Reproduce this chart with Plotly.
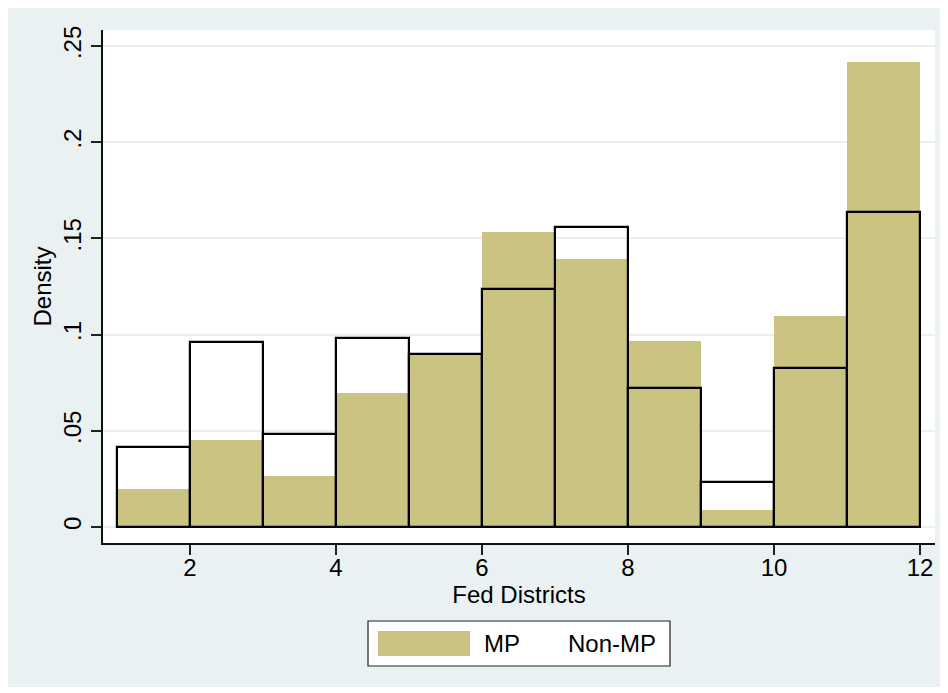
import plotly.graph_objects as go

# Histogram bins (Fed districts), each bin spans [start, start+1)
bin_start = [1, 2, 3, 4, 5, 6, 7, 8, 9, 10, 11]
bin_width = 1

# Density values
mp_density = [0.0198, 0.0452, 0.0265, 0.0695, 0.0903, 0.1535, 0.1391, 0.0967, 0.0088, 0.1097, 0.2419]
nonmp_density = [0.0418, 0.0962, 0.0485, 0.0982, 0.0900, 0.1239, 0.1561, 0.0723, 0.0236, 0.0825, 0.1639]

y_tickvals = [0, 0.05, 0.1, 0.15, 0.2, 0.25]
y_ticktext = ["0", ".05", ".1", ".15", ".2", ".25"]
x_tickvals = [2, 4, 6, 8, 10, 12]

KHAKI = "#CAC381"
OUTER_BG = "#EAF1F3"
GRID = "#E8F0F2"
FONT = "Arial, Liberation Sans, sans-serif"
FS = 24

fig = go.Figure()
fig.add_trace(go.Bar(
    x=bin_start, y=mp_density, width=bin_width, offset=0,
    marker=dict(color=KHAKI, line=dict(width=0)),
    name="MP", showlegend=False,
))
fig.add_trace(go.Bar(
    x=bin_start, y=nonmp_density, width=bin_width, offset=0,
    marker=dict(color="rgba(0,0,0,0)", line=dict(color="black", width=2.2)),
    name="Non-MP", showlegend=False,
))

# figure geometry (page is offset by 8px body margin)
OFF = 8
W, H = 932, 679
L, T = 103 - OFF, 30 - OFF
R = W - (935 - OFF)
B = H - (543 - OFF)
pw, ph = W - L - R, H - T - B

def px_x(p):  # page pixel -> paper x
    return (p - OFF - L) / pw

def px_y(p):  # page pixel -> paper y
    return (H - B - (p - OFF)) / ph

shapes = [
    # legend box
    dict(type="rect", xref="paper", yref="paper",
         x0=px_x(368), x1=px_x(670), y0=px_y(666), y1=px_y(621),
         fillcolor="white", line=dict(color="#222222", width=1.2)),
    # legend key for MP
    dict(type="rect", xref="paper", yref="paper",
         x0=px_x(378), x1=px_x(470), y0=px_y(656), y1=px_y(631),
         fillcolor=KHAKI, line=dict(width=0)),
]

annotations = [
    dict(text="MP", xref="paper", yref="paper", x=px_x(482), y=px_y(643.5),
         xanchor="left", yanchor="middle", showarrow=False,
         font=dict(family=FONT, size=FS, color="black")),
    dict(text="Non-MP", xref="paper", yref="paper", x=px_x(566), y=px_y(643.5),
         xanchor="left", yanchor="middle", showarrow=False,
         font=dict(family=FONT, size=FS, color="black")),
]

fig.update_layout(
    width=W, height=H,
    margin=dict(l=L, r=R, t=T, b=B, pad=0),
    paper_bgcolor=OUTER_BG,
    plot_bgcolor="white",
    barmode="overlay",
    bargap=0,
    showlegend=False,
    font=dict(family=FONT, size=FS, color="black"),
    shapes=shapes,
    annotations=annotations,
    xaxis=dict(
        range=[0.808, 12.205],
        tickvals=x_tickvals,
        ticks="outside", ticklen=10, tickwidth=1.5, tickcolor="#222222",
        showline=True, linecolor="#111111", linewidth=1.5,
        showgrid=False, zeroline=False,
        tickfont=dict(size=FS),
        ticklabelstandoff=-8,
        title=dict(text="Fed Districts", font=dict(size=FS), standoff=2),
    ),
    yaxis=dict(
        range=[-0.0083, 0.2583],
        tickvals=y_tickvals, ticktext=y_ticktext,
        tickangle=-90,
        ticks="outside", ticklen=10, tickwidth=1.5, tickcolor="#222222",
        showline=True, linecolor="#111111", linewidth=1.5,
        showgrid=True, gridcolor=GRID, gridwidth=2,
        zeroline=False,
        tickfont=dict(size=FS),
        ticklabelstandoff=1,
        title=dict(text="Density", font=dict(size=FS), standoff=0),
    ),
)

fig.write_html("out.html")
